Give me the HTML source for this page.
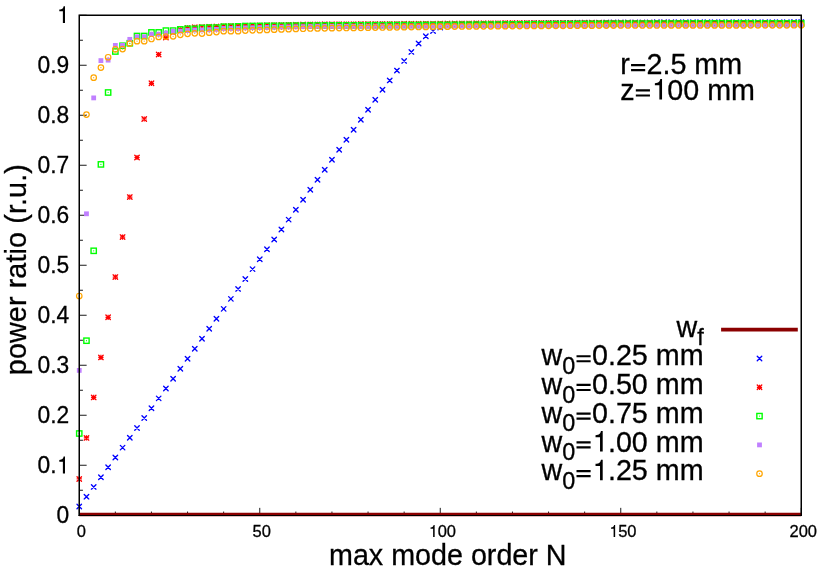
<!DOCTYPE html>
<html><head><meta charset="utf-8"><title>plot</title>
<style>
html,body{margin:0;padding:0;background:#fff;}
body{width:830px;height:581px;overflow:hidden;}
svg{display:block;will-change:transform;}
text{font-family:"Liberation Sans",sans-serif;fill:#000;stroke:#000;stroke-width:0.3px;}
.yt{font-size:23.6px;text-anchor:end;}
.h{fill:none;stroke:none;}
.xt{font-size:16.5px;text-anchor:middle;}
.big{font-size:28.7px;}
.sub{font-size:23.4px;}
</style></head><body>
<svg width="830" height="581" viewBox="0 0 830 581">

<defs>
<g id="mx"><path d="M-2.25,-2.25L2.25,2.25M-2.25,2.25L2.25,-2.25" stroke="#0000ff" stroke-width="1.35" stroke-linecap="round" fill="none"/></g>
<g id="ms"><path d="M-2.25,-2.25L2.25,2.25M-2.25,2.25L2.25,-2.25" stroke="#ff0000" stroke-width="1.35" stroke-linecap="round" fill="none"/><path d="M-2.6,0L2.6,0M0,-2.6L0,2.6" stroke="#ff0000" stroke-width="1.2" fill="none"/></g>
<g id="mq"><rect x="-2.65" y="-2.65" width="5.3" height="5.3" stroke="#00ff00" stroke-width="1.4" fill="none"/><circle r="0.6" fill="#00ff00"/></g>
<g id="mf"><rect x="-2.4" y="-2.4" width="4.8" height="4.8" fill="#c080ff"/></g>
<g id="mc"><circle r="2.75" stroke="#ffa500" stroke-width="1.2" fill="none"/><circle r="0.6" fill="#ffa500"/></g>
</defs>
<path d="M79.25,515.25h7.4M79.25,490.25h3.7M79.25,465.25h7.4M79.25,440.25h3.7M79.25,415.25h7.4M79.25,390.25h3.7M79.25,365.25h7.4M79.25,340.25h3.7M79.25,315.25h7.4M79.25,290.25h3.7M79.25,265.25h7.4M79.25,240.25h3.7M79.25,215.25h7.4M79.25,190.25h3.7M79.25,165.25h7.4M79.25,140.25h3.7M79.25,115.25h7.4M79.25,90.25h3.7M79.25,65.25h7.4M79.25,40.25h3.7M79.25,15.25h7.4M79.25,515.25v-7.4M115.35,515.25v-3.7M151.45,515.25v-3.7M187.55,515.25v-3.7M223.65,515.25v-3.7M259.75,515.25v-7.4M295.85,515.25v-3.7M331.95,515.25v-3.7M368.05,515.25v-3.7M404.15,515.25v-3.7M440.25,515.25v-7.4M476.35,515.25v-3.7M512.45,515.25v-3.7M548.55,515.25v-3.7M584.65,515.25v-3.7M620.75,515.25v-7.4M656.85,515.25v-3.7M692.95,515.25v-3.7M729.05,515.25v-3.7M765.15,515.25v-3.7M801.25,515.25v-7.4" stroke="#000" stroke-width="0.9" fill="none"/>
<text class="yt" transform="translate(69.15,523.45) scale(0.965,1)">0</text><text class="yt" transform="translate(69.15,473.45) scale(0.965,1)">0.<tspan class="h">1</tspan></text><text class="yt" transform="translate(69.15,423.45) scale(0.965,1)">0.2</text><text class="yt" transform="translate(69.15,373.45) scale(0.965,1)">0.3</text><text class="yt" transform="translate(69.15,323.45) scale(0.965,1)">0.4</text><text class="yt" transform="translate(69.15,273.45) scale(0.965,1)">0.5</text><text class="yt" transform="translate(69.15,223.45) scale(0.965,1)">0.6</text><text class="yt" transform="translate(69.15,173.45) scale(0.965,1)">0.7</text><text class="yt" transform="translate(69.15,123.45) scale(0.965,1)">0.8</text><text class="yt" transform="translate(69.15,73.45) scale(0.965,1)">0.9</text><text class="yt" transform="translate(69.15,23.05) scale(0.965,1)"><tspan class="h">1</tspan></text>
<text class="xt" x="81.25" y="536.9">0</text><text class="xt" x="261.75" y="536.9">50</text><text class="xt" x="442.25" y="536.9"><tspan class="h">1</tspan>00</text><text class="xt" x="622.75" y="536.9"><tspan class="h">1</tspan>50</text><text class="xt" x="803.25" y="536.9">200</text>
<text class="big" x="329.0" y="565.2">max mode order N</text>
<text class="big" transform="translate(25.5,375.2) rotate(-90)" style="letter-spacing:0.13px">power ratio (r.u.)</text>
<text class="big" x="620.2" y="74.3">r<tspan class="h">=</tspan>2.5 mm</text>
<text class="big" x="620.2" y="99.6">z<tspan class="h">=</tspan><tspan class="h">1</tspan>00 mm</text>
<line x1="79.25" y1="514.5" x2="801.25" y2="514.5" stroke="#8b0000" stroke-width="3.6"/>
<g><use href="#mx" x="79.25" y="506.45"/><use href="#mx" x="86.47" y="496.65"/><use href="#mx" x="93.69" y="486.90"/><use href="#mx" x="100.91" y="477.25"/><use href="#mx" x="108.13" y="467.30"/><use href="#mx" x="115.35" y="457.46"/><use href="#mx" x="122.57" y="447.61"/><use href="#mx" x="129.79" y="437.77"/><use href="#mx" x="137.01" y="427.92"/><use href="#mx" x="144.23" y="418.08"/><use href="#mx" x="151.45" y="408.23"/><use href="#mx" x="158.67" y="398.39"/><use href="#mx" x="165.89" y="388.54"/><use href="#mx" x="173.11" y="378.70"/><use href="#mx" x="180.33" y="368.72"/><use href="#mx" x="187.55" y="358.74"/><use href="#mx" x="194.77" y="348.77"/><use href="#mx" x="201.99" y="338.79"/><use href="#mx" x="209.21" y="328.81"/><use href="#mx" x="216.43" y="318.83"/><use href="#mx" x="223.65" y="308.86"/><use href="#mx" x="230.87" y="298.88"/><use href="#mx" x="238.09" y="288.90"/><use href="#mx" x="245.31" y="279.01"/><use href="#mx" x="252.53" y="269.11"/><use href="#mx" x="259.75" y="259.22"/><use href="#mx" x="266.97" y="249.33"/><use href="#mx" x="274.19" y="239.43"/><use href="#mx" x="281.41" y="229.54"/><use href="#mx" x="288.63" y="219.64"/><use href="#mx" x="295.85" y="209.75"/><use href="#mx" x="303.07" y="199.75"/><use href="#mx" x="310.29" y="189.76"/><use href="#mx" x="317.51" y="179.76"/><use href="#mx" x="324.73" y="169.77"/><use href="#mx" x="331.95" y="159.77"/><use href="#mx" x="339.17" y="149.77"/><use href="#mx" x="346.39" y="139.78"/><use href="#mx" x="353.61" y="129.78"/><use href="#mx" x="360.83" y="119.79"/><use href="#mx" x="368.05" y="109.79"/><use href="#mx" x="375.27" y="99.80"/><use href="#mx" x="382.49" y="89.80"/><use href="#mx" x="389.71" y="80.40"/><use href="#mx" x="396.93" y="70.60"/><use href="#mx" x="404.15" y="60.90"/><use href="#mx" x="411.37" y="51.90"/><use href="#mx" x="418.59" y="43.50"/><use href="#mx" x="425.81" y="36.30"/><use href="#mx" x="433.03" y="31.10"/><use href="#mx" x="440.25" y="27.50"/><use href="#mx" x="447.47" y="25.75"/><use href="#mx" x="454.69" y="25.25"/><use href="#mx" x="461.91" y="25.00"/><use href="#mx" x="469.13" y="24.75"/><use href="#mx" x="476.35" y="24.50"/><use href="#mx" x="483.57" y="24.35"/><use href="#mx" x="490.79" y="24.20"/><use href="#mx" x="498.01" y="24.05"/><use href="#mx" x="505.23" y="23.90"/><use href="#mx" x="512.45" y="23.75"/><use href="#mx" x="519.67" y="23.60"/><use href="#mx" x="526.89" y="23.45"/><use href="#mx" x="534.11" y="23.30"/><use href="#mx" x="541.33" y="23.15"/><use href="#mx" x="548.55" y="23.00"/><use href="#mx" x="555.77" y="22.95"/><use href="#mx" x="562.99" y="22.90"/><use href="#mx" x="570.21" y="22.85"/><use href="#mx" x="577.43" y="22.80"/><use href="#mx" x="584.65" y="22.75"/><use href="#mx" x="591.87" y="22.70"/><use href="#mx" x="599.09" y="22.65"/><use href="#mx" x="606.31" y="22.60"/><use href="#mx" x="613.53" y="22.55"/><use href="#mx" x="620.75" y="22.50"/><use href="#mx" x="627.97" y="22.46"/><use href="#mx" x="635.19" y="22.43"/><use href="#mx" x="642.41" y="22.40"/><use href="#mx" x="649.63" y="22.36"/><use href="#mx" x="656.85" y="22.32"/><use href="#mx" x="664.07" y="22.29"/><use href="#mx" x="671.29" y="22.25"/><use href="#mx" x="678.51" y="22.22"/><use href="#mx" x="685.73" y="22.19"/><use href="#mx" x="692.95" y="22.15"/><use href="#mx" x="700.17" y="22.15"/><use href="#mx" x="707.39" y="22.14"/><use href="#mx" x="714.61" y="22.14"/><use href="#mx" x="721.83" y="22.14"/><use href="#mx" x="729.05" y="22.13"/><use href="#mx" x="736.27" y="22.13"/><use href="#mx" x="743.49" y="22.13"/><use href="#mx" x="750.71" y="22.12"/><use href="#mx" x="757.93" y="22.12"/><use href="#mx" x="765.15" y="22.12"/><use href="#mx" x="772.37" y="22.11"/><use href="#mx" x="779.59" y="22.11"/><use href="#mx" x="786.81" y="22.11"/><use href="#mx" x="794.03" y="22.10"/><use href="#mx" x="801.25" y="22.10"/></g>
<g><use href="#ms" x="79.25" y="478.95"/><use href="#ms" x="86.47" y="437.90"/><use href="#ms" x="93.69" y="397.40"/><use href="#ms" x="100.91" y="357.40"/><use href="#ms" x="108.13" y="317.30"/><use href="#ms" x="115.35" y="277.10"/><use href="#ms" x="122.57" y="237.10"/><use href="#ms" x="129.79" y="197.10"/><use href="#ms" x="137.01" y="157.50"/><use href="#ms" x="144.23" y="119.00"/><use href="#ms" x="151.45" y="83.30"/><use href="#ms" x="158.67" y="54.50"/><use href="#ms" x="165.89" y="37.50"/><use href="#ms" x="173.11" y="32.25"/><use href="#ms" x="180.33" y="29.75"/><use href="#ms" x="187.55" y="27.90"/><use href="#ms" x="194.77" y="27.30"/><use href="#ms" x="201.99" y="27.00"/><use href="#ms" x="209.21" y="26.75"/><use href="#ms" x="216.43" y="26.50"/><use href="#ms" x="223.65" y="26.25"/><use href="#ms" x="230.87" y="26.00"/><use href="#ms" x="238.09" y="25.85"/><use href="#ms" x="245.31" y="25.75"/><use href="#ms" x="252.53" y="25.60"/><use href="#ms" x="259.75" y="25.45"/><use href="#ms" x="266.97" y="25.30"/><use href="#ms" x="274.19" y="25.15"/><use href="#ms" x="281.41" y="25.00"/><use href="#ms" x="288.63" y="24.85"/><use href="#ms" x="295.85" y="24.70"/><use href="#ms" x="303.07" y="24.55"/><use href="#ms" x="310.29" y="24.40"/><use href="#ms" x="317.51" y="24.36"/><use href="#ms" x="324.73" y="24.31"/><use href="#ms" x="331.95" y="24.27"/><use href="#ms" x="339.17" y="24.22"/><use href="#ms" x="346.39" y="24.18"/><use href="#ms" x="353.61" y="24.13"/><use href="#ms" x="360.83" y="24.09"/><use href="#ms" x="368.05" y="24.04"/><use href="#ms" x="375.27" y="24.00"/><use href="#ms" x="382.49" y="23.96"/><use href="#ms" x="389.71" y="23.91"/><use href="#ms" x="396.93" y="23.87"/><use href="#ms" x="404.15" y="23.82"/><use href="#ms" x="411.37" y="23.78"/><use href="#ms" x="418.59" y="23.73"/><use href="#ms" x="425.81" y="23.69"/><use href="#ms" x="433.03" y="23.64"/><use href="#ms" x="440.25" y="23.60"/><use href="#ms" x="447.47" y="23.54"/><use href="#ms" x="454.69" y="23.48"/><use href="#ms" x="461.91" y="23.42"/><use href="#ms" x="469.13" y="23.36"/><use href="#ms" x="476.35" y="23.30"/><use href="#ms" x="483.57" y="23.24"/><use href="#ms" x="490.79" y="23.18"/><use href="#ms" x="498.01" y="23.12"/><use href="#ms" x="505.23" y="23.06"/><use href="#ms" x="512.45" y="23.00"/><use href="#ms" x="519.67" y="22.98"/><use href="#ms" x="526.89" y="22.97"/><use href="#ms" x="534.11" y="22.95"/><use href="#ms" x="541.33" y="22.93"/><use href="#ms" x="548.55" y="22.92"/><use href="#ms" x="555.77" y="22.90"/><use href="#ms" x="562.99" y="22.88"/><use href="#ms" x="570.21" y="22.87"/><use href="#ms" x="577.43" y="22.85"/><use href="#ms" x="584.65" y="22.83"/><use href="#ms" x="591.87" y="22.82"/><use href="#ms" x="599.09" y="22.80"/><use href="#ms" x="606.31" y="22.78"/><use href="#ms" x="613.53" y="22.77"/><use href="#ms" x="620.75" y="22.75"/><use href="#ms" x="627.97" y="22.76"/><use href="#ms" x="635.19" y="22.77"/><use href="#ms" x="642.41" y="22.79"/><use href="#ms" x="649.63" y="22.80"/><use href="#ms" x="656.85" y="22.81"/><use href="#ms" x="664.07" y="22.82"/><use href="#ms" x="671.29" y="22.83"/><use href="#ms" x="678.51" y="22.85"/><use href="#ms" x="685.73" y="22.86"/><use href="#ms" x="692.95" y="22.87"/><use href="#ms" x="700.17" y="22.88"/><use href="#ms" x="707.39" y="22.89"/><use href="#ms" x="714.61" y="22.90"/><use href="#ms" x="721.83" y="22.91"/><use href="#ms" x="729.05" y="22.92"/><use href="#ms" x="736.27" y="22.93"/><use href="#ms" x="743.49" y="22.94"/><use href="#ms" x="750.71" y="22.94"/><use href="#ms" x="757.93" y="22.95"/><use href="#ms" x="765.15" y="22.96"/><use href="#ms" x="772.37" y="22.97"/><use href="#ms" x="779.59" y="22.98"/><use href="#ms" x="786.81" y="22.98"/><use href="#ms" x="794.03" y="22.99"/><use href="#ms" x="801.25" y="23.00"/></g>
<g><use href="#mq" x="79.25" y="433.50"/><use href="#mq" x="86.47" y="340.70"/><use href="#mq" x="93.69" y="250.80"/><use href="#mq" x="100.91" y="164.40"/><use href="#mq" x="108.13" y="92.50"/><use href="#mq" x="115.35" y="51.50"/><use href="#mq" x="122.57" y="45.75"/><use href="#mq" x="129.79" y="43.25"/><use href="#mq" x="137.01" y="36.00"/><use href="#mq" x="144.23" y="36.00"/><use href="#mq" x="151.45" y="32.40"/><use href="#mq" x="158.67" y="32.40"/><use href="#mq" x="165.89" y="30.60"/><use href="#mq" x="173.11" y="30.60"/><use href="#mq" x="180.33" y="29.40"/><use href="#mq" x="187.55" y="28.80"/><use href="#mq" x="194.77" y="28.80"/><use href="#mq" x="201.99" y="27.90"/><use href="#mq" x="209.21" y="27.60"/><use href="#mq" x="216.43" y="27.60"/><use href="#mq" x="223.65" y="26.70"/><use href="#mq" x="230.87" y="26.70"/><use href="#mq" x="238.09" y="26.40"/><use href="#mq" x="245.31" y="26.05"/><use href="#mq" x="252.53" y="25.99"/><use href="#mq" x="259.75" y="25.93"/><use href="#mq" x="266.97" y="25.87"/><use href="#mq" x="274.19" y="25.81"/><use href="#mq" x="281.41" y="25.74"/><use href="#mq" x="288.63" y="25.68"/><use href="#mq" x="295.85" y="25.62"/><use href="#mq" x="303.07" y="25.56"/><use href="#mq" x="310.29" y="25.50"/><use href="#mq" x="317.51" y="25.47"/><use href="#mq" x="324.73" y="25.43"/><use href="#mq" x="331.95" y="25.40"/><use href="#mq" x="339.17" y="25.37"/><use href="#mq" x="346.39" y="25.33"/><use href="#mq" x="353.61" y="25.30"/><use href="#mq" x="360.83" y="25.27"/><use href="#mq" x="368.05" y="25.23"/><use href="#mq" x="375.27" y="25.20"/><use href="#mq" x="382.49" y="25.17"/><use href="#mq" x="389.71" y="25.13"/><use href="#mq" x="396.93" y="25.10"/><use href="#mq" x="404.15" y="25.07"/><use href="#mq" x="411.37" y="25.03"/><use href="#mq" x="418.59" y="25.00"/><use href="#mq" x="425.81" y="24.97"/><use href="#mq" x="433.03" y="24.93"/><use href="#mq" x="440.25" y="24.90"/><use href="#mq" x="447.47" y="24.85"/><use href="#mq" x="454.69" y="24.80"/><use href="#mq" x="461.91" y="24.76"/><use href="#mq" x="469.13" y="24.71"/><use href="#mq" x="476.35" y="24.66"/><use href="#mq" x="483.57" y="24.61"/><use href="#mq" x="490.79" y="24.56"/><use href="#mq" x="498.01" y="24.52"/><use href="#mq" x="505.23" y="24.47"/><use href="#mq" x="512.45" y="24.42"/><use href="#mq" x="519.67" y="24.37"/><use href="#mq" x="526.89" y="24.32"/><use href="#mq" x="534.11" y="24.28"/><use href="#mq" x="541.33" y="24.23"/><use href="#mq" x="548.55" y="24.18"/><use href="#mq" x="555.77" y="24.13"/><use href="#mq" x="562.99" y="24.08"/><use href="#mq" x="570.21" y="24.04"/><use href="#mq" x="577.43" y="23.99"/><use href="#mq" x="584.65" y="23.94"/><use href="#mq" x="591.87" y="23.89"/><use href="#mq" x="599.09" y="23.84"/><use href="#mq" x="606.31" y="23.80"/><use href="#mq" x="613.53" y="23.75"/><use href="#mq" x="620.75" y="23.70"/><use href="#mq" x="627.97" y="23.68"/><use href="#mq" x="635.19" y="23.65"/><use href="#mq" x="642.41" y="23.63"/><use href="#mq" x="649.63" y="23.60"/><use href="#mq" x="656.85" y="23.58"/><use href="#mq" x="664.07" y="23.56"/><use href="#mq" x="671.29" y="23.53"/><use href="#mq" x="678.51" y="23.51"/><use href="#mq" x="685.73" y="23.48"/><use href="#mq" x="692.95" y="23.46"/><use href="#mq" x="700.17" y="23.44"/><use href="#mq" x="707.39" y="23.41"/><use href="#mq" x="714.61" y="23.40"/><use href="#mq" x="721.83" y="23.40"/><use href="#mq" x="729.05" y="23.40"/><use href="#mq" x="736.27" y="23.40"/><use href="#mq" x="743.49" y="23.40"/><use href="#mq" x="750.71" y="23.40"/><use href="#mq" x="757.93" y="23.40"/><use href="#mq" x="765.15" y="23.40"/><use href="#mq" x="772.37" y="23.40"/><use href="#mq" x="779.59" y="23.40"/><use href="#mq" x="786.81" y="23.40"/><use href="#mq" x="794.03" y="23.40"/><use href="#mq" x="801.25" y="23.40"/></g>
<g><use href="#mf" x="79.25" y="370.40"/><use href="#mf" x="86.47" y="213.80"/><use href="#mf" x="93.69" y="97.90"/><use href="#mf" x="100.91" y="60.60"/><use href="#mf" x="108.13" y="60.15"/><use href="#mf" x="115.35" y="45.40"/><use href="#mf" x="122.57" y="45.40"/><use href="#mf" x="129.79" y="39.35"/><use href="#mf" x="137.01" y="36.75"/><use href="#mf" x="144.23" y="36.75"/><use href="#mf" x="151.45" y="34.20"/><use href="#mf" x="158.67" y="34.20"/><use href="#mf" x="165.89" y="33.00"/><use href="#mf" x="173.11" y="31.20"/><use href="#mf" x="180.33" y="31.20"/><use href="#mf" x="187.55" y="30.60"/><use href="#mf" x="194.77" y="30.00"/><use href="#mf" x="201.99" y="30.00"/><use href="#mf" x="209.21" y="29.70"/><use href="#mf" x="216.43" y="29.40"/><use href="#mf" x="223.65" y="28.50"/><use href="#mf" x="230.87" y="28.50"/><use href="#mf" x="238.09" y="28.50"/><use href="#mf" x="245.31" y="27.90"/><use href="#mf" x="252.53" y="27.74"/><use href="#mf" x="259.75" y="27.59"/><use href="#mf" x="266.97" y="27.43"/><use href="#mf" x="274.19" y="27.28"/><use href="#mf" x="281.41" y="27.12"/><use href="#mf" x="288.63" y="26.97"/><use href="#mf" x="295.85" y="26.81"/><use href="#mf" x="303.07" y="26.66"/><use href="#mf" x="310.29" y="26.50"/><use href="#mf" x="317.51" y="26.47"/><use href="#mf" x="324.73" y="26.44"/><use href="#mf" x="331.95" y="26.42"/><use href="#mf" x="339.17" y="26.39"/><use href="#mf" x="346.39" y="26.36"/><use href="#mf" x="353.61" y="26.33"/><use href="#mf" x="360.83" y="26.31"/><use href="#mf" x="368.05" y="26.28"/><use href="#mf" x="375.27" y="26.25"/><use href="#mf" x="382.49" y="26.22"/><use href="#mf" x="389.71" y="26.19"/><use href="#mf" x="396.93" y="26.17"/><use href="#mf" x="404.15" y="26.14"/><use href="#mf" x="411.37" y="26.11"/><use href="#mf" x="418.59" y="26.08"/><use href="#mf" x="425.81" y="26.06"/><use href="#mf" x="433.03" y="26.03"/><use href="#mf" x="440.25" y="26.00"/><use href="#mf" x="447.47" y="25.98"/><use href="#mf" x="454.69" y="25.96"/><use href="#mf" x="461.91" y="25.94"/><use href="#mf" x="469.13" y="25.92"/><use href="#mf" x="476.35" y="25.90"/><use href="#mf" x="483.57" y="25.88"/><use href="#mf" x="490.79" y="25.86"/><use href="#mf" x="498.01" y="25.84"/><use href="#mf" x="505.23" y="25.82"/><use href="#mf" x="512.45" y="25.80"/><use href="#mf" x="519.67" y="25.78"/><use href="#mf" x="526.89" y="25.76"/><use href="#mf" x="534.11" y="25.74"/><use href="#mf" x="541.33" y="25.71"/><use href="#mf" x="548.55" y="25.68"/><use href="#mf" x="555.77" y="25.65"/><use href="#mf" x="562.99" y="25.62"/><use href="#mf" x="570.21" y="25.60"/><use href="#mf" x="577.43" y="25.57"/><use href="#mf" x="584.65" y="25.54"/><use href="#mf" x="591.87" y="25.51"/><use href="#mf" x="599.09" y="25.48"/><use href="#mf" x="606.31" y="25.46"/><use href="#mf" x="613.53" y="25.43"/><use href="#mf" x="620.75" y="25.40"/><use href="#mf" x="627.97" y="25.39"/><use href="#mf" x="635.19" y="25.38"/><use href="#mf" x="642.41" y="25.37"/><use href="#mf" x="649.63" y="25.36"/><use href="#mf" x="656.85" y="25.35"/><use href="#mf" x="664.07" y="25.34"/><use href="#mf" x="671.29" y="25.33"/><use href="#mf" x="678.51" y="25.32"/><use href="#mf" x="685.73" y="25.31"/><use href="#mf" x="692.95" y="25.30"/><use href="#mf" x="700.17" y="25.29"/><use href="#mf" x="707.39" y="25.28"/><use href="#mf" x="714.61" y="25.27"/><use href="#mf" x="721.83" y="25.26"/><use href="#mf" x="729.05" y="25.25"/><use href="#mf" x="736.27" y="25.24"/><use href="#mf" x="743.49" y="25.23"/><use href="#mf" x="750.71" y="25.22"/><use href="#mf" x="757.93" y="25.21"/><use href="#mf" x="765.15" y="25.20"/><use href="#mf" x="772.37" y="25.19"/><use href="#mf" x="779.59" y="25.18"/><use href="#mf" x="786.81" y="25.17"/><use href="#mf" x="794.03" y="25.16"/><use href="#mf" x="801.25" y="25.15"/></g>
<g><use href="#mc" x="79.25" y="296.00"/><use href="#mc" x="86.47" y="114.60"/><use href="#mc" x="93.69" y="77.65"/><use href="#mc" x="100.91" y="67.55"/><use href="#mc" x="108.13" y="57.25"/><use href="#mc" x="115.35" y="49.30"/><use href="#mc" x="122.57" y="49.05"/><use href="#mc" x="129.79" y="43.55"/><use href="#mc" x="137.01" y="41.20"/><use href="#mc" x="144.23" y="41.20"/><use href="#mc" x="151.45" y="39.00"/><use href="#mc" x="158.67" y="36.90"/><use href="#mc" x="165.89" y="36.60"/><use href="#mc" x="173.11" y="36.30"/><use href="#mc" x="180.33" y="34.80"/><use href="#mc" x="187.55" y="33.80"/><use href="#mc" x="194.77" y="33.30"/><use href="#mc" x="201.99" y="33.60"/><use href="#mc" x="209.21" y="32.70"/><use href="#mc" x="216.43" y="32.10"/><use href="#mc" x="223.65" y="31.20"/><use href="#mc" x="230.87" y="31.20"/><use href="#mc" x="238.09" y="31.20"/><use href="#mc" x="245.31" y="30.60"/><use href="#mc" x="252.53" y="30.37"/><use href="#mc" x="259.75" y="30.13"/><use href="#mc" x="266.97" y="29.90"/><use href="#mc" x="274.19" y="29.67"/><use href="#mc" x="281.41" y="29.43"/><use href="#mc" x="288.63" y="29.20"/><use href="#mc" x="295.85" y="28.97"/><use href="#mc" x="303.07" y="28.73"/><use href="#mc" x="310.29" y="28.50"/><use href="#mc" x="317.51" y="28.40"/><use href="#mc" x="324.73" y="28.30"/><use href="#mc" x="331.95" y="28.20"/><use href="#mc" x="339.17" y="28.10"/><use href="#mc" x="346.39" y="28.00"/><use href="#mc" x="353.61" y="27.90"/><use href="#mc" x="360.83" y="27.80"/><use href="#mc" x="368.05" y="27.70"/><use href="#mc" x="375.27" y="27.60"/><use href="#mc" x="382.49" y="27.50"/><use href="#mc" x="389.71" y="27.40"/><use href="#mc" x="396.93" y="27.30"/><use href="#mc" x="404.15" y="27.20"/><use href="#mc" x="411.37" y="27.10"/><use href="#mc" x="418.59" y="27.00"/><use href="#mc" x="425.81" y="26.90"/><use href="#mc" x="433.03" y="26.80"/><use href="#mc" x="440.25" y="26.70"/><use href="#mc" x="447.47" y="26.64"/><use href="#mc" x="454.69" y="26.58"/><use href="#mc" x="461.91" y="26.52"/><use href="#mc" x="469.13" y="26.46"/><use href="#mc" x="476.35" y="26.40"/><use href="#mc" x="483.57" y="26.34"/><use href="#mc" x="490.79" y="26.28"/><use href="#mc" x="498.01" y="26.22"/><use href="#mc" x="505.23" y="26.16"/><use href="#mc" x="512.45" y="26.10"/><use href="#mc" x="519.67" y="26.04"/><use href="#mc" x="526.89" y="25.98"/><use href="#mc" x="534.11" y="25.93"/><use href="#mc" x="541.33" y="25.90"/><use href="#mc" x="548.55" y="25.86"/><use href="#mc" x="555.77" y="25.82"/><use href="#mc" x="562.99" y="25.79"/><use href="#mc" x="570.21" y="25.75"/><use href="#mc" x="577.43" y="25.72"/><use href="#mc" x="584.65" y="25.68"/><use href="#mc" x="591.87" y="25.64"/><use href="#mc" x="599.09" y="25.61"/><use href="#mc" x="606.31" y="25.57"/><use href="#mc" x="613.53" y="25.54"/><use href="#mc" x="620.75" y="25.50"/><use href="#mc" x="627.97" y="25.50"/><use href="#mc" x="635.19" y="25.49"/><use href="#mc" x="642.41" y="25.49"/><use href="#mc" x="649.63" y="25.48"/><use href="#mc" x="656.85" y="25.48"/><use href="#mc" x="664.07" y="25.48"/><use href="#mc" x="671.29" y="25.47"/><use href="#mc" x="678.51" y="25.47"/><use href="#mc" x="685.73" y="25.46"/><use href="#mc" x="692.95" y="25.46"/><use href="#mc" x="700.17" y="25.46"/><use href="#mc" x="707.39" y="25.45"/><use href="#mc" x="714.61" y="25.44"/><use href="#mc" x="721.83" y="25.43"/><use href="#mc" x="729.05" y="25.41"/><use href="#mc" x="736.27" y="25.39"/><use href="#mc" x="743.49" y="25.38"/><use href="#mc" x="750.71" y="25.36"/><use href="#mc" x="757.93" y="25.35"/><use href="#mc" x="765.15" y="25.33"/><use href="#mc" x="772.37" y="25.31"/><use href="#mc" x="779.59" y="25.30"/><use href="#mc" x="786.81" y="25.28"/><use href="#mc" x="794.03" y="25.27"/><use href="#mc" x="801.25" y="25.25"/></g>
<line x1="721.1" y1="329.6" x2="797.8" y2="329.6" stroke="#8b0000" stroke-width="3.6"/>
<text class="big" x="703.8" y="336.6" text-anchor="end">w<tspan class="sub" dy="8.6">f</tspan></text>
<text class="big" x="703.6" y="365.40" text-anchor="end">w<tspan class="sub" dy="8.6">0</tspan><tspan dy="-8.6"><tspan class="h">=</tspan>0.25 mm</tspan></text><use href="#mx" x="759.5" y="358.50"/>
<text class="big" x="703.6" y="394.12" text-anchor="end">w<tspan class="sub" dy="8.6">0</tspan><tspan dy="-8.6"><tspan class="h">=</tspan>0.50 mm</tspan></text><use href="#ms" x="759.5" y="387.30"/>
<text class="big" x="703.6" y="422.84" text-anchor="end">w<tspan class="sub" dy="8.6">0</tspan><tspan dy="-8.6"><tspan class="h">=</tspan>0.75 mm</tspan></text><use href="#mq" x="759.5" y="416.10"/>
<text class="big" x="703.6" y="451.56" text-anchor="end">w<tspan class="sub" dy="8.6">0</tspan><tspan dy="-8.6"><tspan class="h">=</tspan><tspan class="h">1</tspan>.00 mm</tspan></text><use href="#mf" x="759.5" y="444.90"/>
<text class="big" x="703.6" y="480.28" text-anchor="end">w<tspan class="sub" dy="8.6">0</tspan><tspan dy="-8.6"><tspan class="h">=</tspan><tspan class="h">1</tspan>.25 mm</tspan></text><use href="#mc" x="759.5" y="473.70"/>
<path d="M79.25,516 V15.25 H801.25 V516" fill="none" stroke="#000" stroke-width="1.5"/><path d="M78.50,515.5 H802.00" fill="none" stroke="#000" stroke-width="1"/>
<g><path d="M281,500V0H374V716H314C283,605 263,590 124,572V500Z" transform="translate(69.15,473.45) scale(0.965,1) translate(-13.13,0.00) scale(0.02360,-0.02360)" fill="#000"/><path d="M281,500V0H374V716H314C283,605 263,590 124,572V500Z" transform="translate(69.15,23.05) scale(0.965,1) translate(-13.13,0.00) scale(0.02360,-0.02360)" fill="#000"/><path d="M281,500V0H374V716H314C283,605 263,590 124,572V500Z" transform="translate(428.48,536.90) scale(0.01650,-0.01650)" fill="#000"/><path d="M281,500V0H374V716H314C283,605 263,590 124,572V500Z" transform="translate(608.98,536.90) scale(0.01650,-0.01650)" fill="#000"/><path d="M45,108H537V182H45ZM45,284H537V358H45Z" transform="translate(629.76,74.30) scale(0.02870,-0.02870)" fill="#000"/><path d="M45,108H537V182H45ZM45,284H537V358H45Z" transform="translate(634.54,99.60) scale(0.02870,-0.02870)" fill="#000"/><path d="M281,500V0H374V716H314C283,605 263,590 124,572V500Z" transform="translate(651.31,99.60) scale(0.02870,-0.02870)" fill="#000"/><path d="M45,108H537V182H45ZM45,284H537V358H45Z" transform="translate(575.22,365.40) scale(0.02870,-0.02870)" fill="#000"/><path d="M45,108H537V182H45ZM45,284H537V358H45Z" transform="translate(575.22,394.12) scale(0.02870,-0.02870)" fill="#000"/><path d="M45,108H537V182H45ZM45,284H537V358H45Z" transform="translate(575.22,422.84) scale(0.02870,-0.02870)" fill="#000"/><path d="M45,108H537V182H45ZM45,284H537V358H45Z" transform="translate(575.21,451.56) scale(0.02870,-0.02870)" fill="#000"/><path d="M281,500V0H374V716H314C283,605 263,590 124,572V500Z" transform="translate(591.97,451.56) scale(0.02870,-0.02870)" fill="#000"/><path d="M45,108H537V182H45ZM45,284H537V358H45Z" transform="translate(575.21,480.28) scale(0.02870,-0.02870)" fill="#000"/><path d="M281,500V0H374V716H314C283,605 263,590 124,572V500Z" transform="translate(591.97,480.28) scale(0.02870,-0.02870)" fill="#000"/></g>
</svg></body></html>
